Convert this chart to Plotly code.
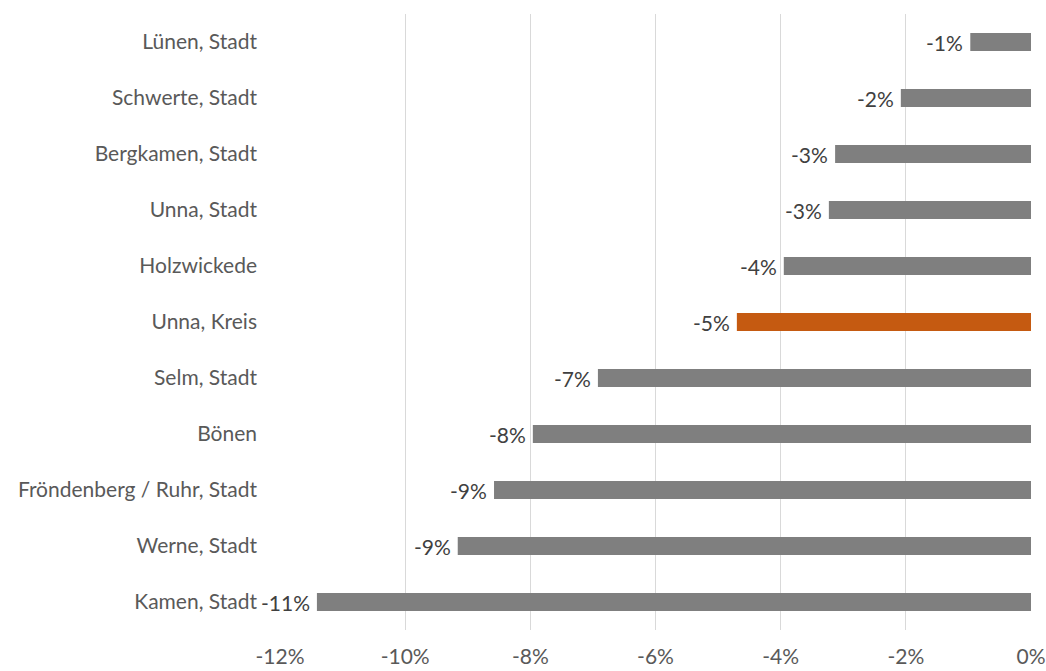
import plotly.graph_objects as go

# Regions, listed bottom-to-top as they appear on the y-axis
regions = [
    "Kamen, Stadt",
    "Werne, Stadt",
    "Fröndenberg / Ruhr, Stadt",
    "Bönen",
    "Selm, Stadt",
    "Unna, Kreis",
    "Holzwickede",
    "Unna, Stadt",
    "Bergkamen, Stadt",
    "Schwerte, Stadt",
    "Lünen, Stadt",
]
# Change in percent
change_pct = [-11.41, -9.16, -8.58, -7.96, -6.92, -4.70, -3.95, -3.23, -3.13, -2.08, -0.97]

tick_vals = [-12, -10, -8, -6, -4, -2, 0]
tick_text = ["-12%", "-10%", "-8%", "-6%", "-4%", "-2%", "0%"]

highlight = "Unna, Kreis"
colors = ["#C55A11" if r == highlight else "#7F7F7F" for r in regions]
labels = [f"{round(v):.0f}%" for v in change_pct]

font_family = "Lato, 'Open Sans', sans-serif"
font_size = 21

fig = go.Figure(
    go.Bar(
        x=change_pct,
        y=regions,
        orientation="h",
        marker=dict(color=colors, line=dict(width=0)),
        width=0.32,
        hoverinfo="skip",
    )
)

# Value labels just left of each bar end
for region, value, label in zip(regions, change_pct, labels):
    fig.add_annotation(
        x=value,
        y=region,
        text=label,
        showarrow=False,
        xanchor="right",
        yanchor="middle",
        xshift=-5,
        font=dict(family=font_family, size=font_size, color="#404040"),
    )

fig.update_layout(
    width=1046,
    height=671,
    margin=dict(l=280, r=15, t=14, b=41, autoexpand=False),
    paper_bgcolor="white",
    plot_bgcolor="white",
    showlegend=False,
    font=dict(family=font_family, size=font_size, color="#595959"),
    xaxis=dict(
        range=[-12, 0],
        tickvals=tick_vals,
        ticktext=tick_text,
        showgrid=True,
        gridcolor="#D9D9D9",
        gridwidth=1,
        zeroline=False,
        showline=False,
        ticks="",
        automargin=False,
        ticklabelstandoff=12,
        tickfont=dict(size=font_size, color="#595959"),
    ),
    yaxis=dict(
        categoryorder="array",
        categoryarray=regions,
        showgrid=False,
        zeroline=False,
        showline=False,
        ticks="",
        automargin=False,
        ticklabelstandoff=22,
        tickfont=dict(size=font_size, color="#595959"),
        range=[-0.5, len(regions) - 0.5],
    ),
)

fig.write_html("out.html")
